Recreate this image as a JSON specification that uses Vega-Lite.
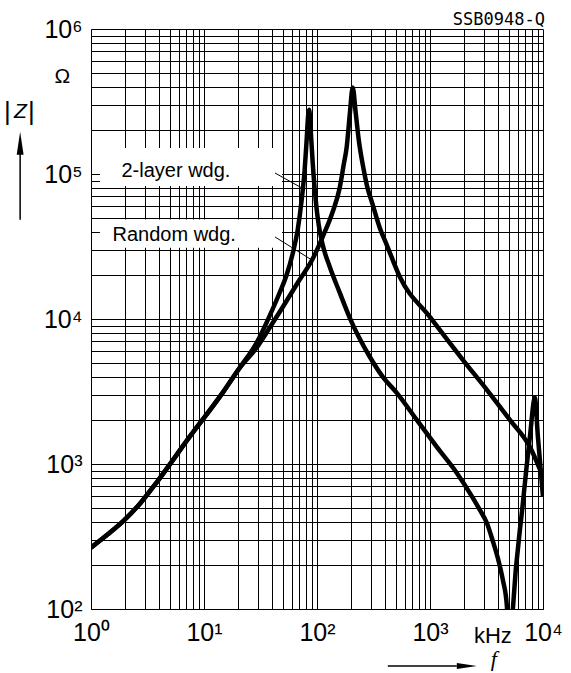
{
  "$schema": "https://vega.github.io/schema/vega-lite/v6.json",
  "width": 452,
  "height": 580,
  "autosize": {"type": "none"},
  "padding": {"left": 91, "top": 29, "right": 28, "bottom": 64},
  "background": "white",
  "config": {"view": {"stroke": null}, "font": "Liberation Sans"},
  "datasets": {
    "boxes": [
      {"f": 1.2, "f2": 49, "z": 82500, "z2": 151000},
      {"f": 1.2, "f2": 49, "z": 31000, "z2": 48500}
    ],
    "curves": [
      {"series": "2-layer", "f": 1, "z": 265},
      {"series": "2-layer", "f": 1.4, "z": 326},
      {"series": "2-layer", "f": 1.98, "z": 412},
      {"series": "2-layer", "f": 2.745, "z": 539},
      {"series": "2-layer", "f": 3.8, "z": 745},
      {"series": "2-layer", "f": 7.45, "z": 1538},
      {"series": "2-layer", "f": 14.6, "z": 3095},
      {"series": "2-layer", "f": 20.7, "z": 4605},
      {"series": "2-layer", "f": 29.2, "z": 6850},
      {"series": "2-layer", "f": 38.1, "z": 10520},
      {"series": "2-layer", "f": 46.7, "z": 15170},
      {"series": "2-layer", "f": 53.9, "z": 20200},
      {"series": "2-layer", "f": 60.9, "z": 28200},
      {"series": "2-layer", "f": 67.5, "z": 41270},
      {"series": "2-layer", "f": 73.2, "z": 66480},
      {"series": "2-layer", "f": 77.8, "z": 107100},
      {"series": "2-layer", "f": 81.0, "z": 172500},
      {"series": "2-layer", "f": 83.6, "z": 256600},
      {"series": "2-layer", "f": 85.3, "z": 277900},
      {"series": "2-layer", "f": 87.9, "z": 202000},
      {"series": "2-layer", "f": 91.6, "z": 119700},
      {"series": "2-layer", "f": 97.3, "z": 66500},
      {"series": "2-layer", "f": 103.5, "z": 44700},
      {"series": "2-layer", "f": 112.3, "z": 32500},
      {"series": "2-layer", "f": 129.6, "z": 22900},
      {"series": "2-layer", "f": 158.9, "z": 15200},
      {"series": "2-layer", "f": 194.9, "z": 10190},
      {"series": "2-layer", "f": 293, "z": 5490},
      {"series": "2-layer", "f": 382, "z": 3990},
      {"series": "2-layer", "f": 508, "z": 3095},
      {"series": "2-layer", "f": 764, "z": 2015},
      {"series": "2-layer", "f": 1148, "z": 1313},
      {"series": "2-layer", "f": 1727, "z": 868},
      {"series": "2-layer", "f": 2393, "z": 584},
      {"series": "2-layer", "f": 2761, "z": 482},
      {"series": "2-layer", "f": 3186, "z": 392},
      {"series": "2-layer", "f": 3597, "z": 294},
      {"series": "2-layer", "f": 4066, "z": 211},
      {"series": "2-layer", "f": 4413, "z": 158.6},
      {"series": "2-layer", "f": 4786, "z": 106},
      {"series": "2-layer", "f": 5090, "z": 40},
      {"series": "2-layer", "f": 5410, "z": 99},
      {"series": "2-layer", "f": 6637, "z": 539},
      {"series": "2-layer", "f": 7655, "z": 1538},
      {"series": "2-layer", "f": 8475, "z": 2860},
      {"series": "2-layer", "f": 9015, "z": 1538},
      {"series": "2-layer", "f": 10000, "z": 593},
      {"series": "Random", "f": 1, "z": 265},
      {"series": "Random", "f": 1.4, "z": 326},
      {"series": "Random", "f": 1.98, "z": 412},
      {"series": "Random", "f": 2.745, "z": 539},
      {"series": "Random", "f": 3.8, "z": 745},
      {"series": "Random", "f": 7.45, "z": 1538},
      {"series": "Random", "f": 14.6, "z": 3095},
      {"series": "Random", "f": 20.7, "z": 4605},
      {"series": "Random", "f": 29.2, "z": 6330},
      {"series": "Random", "f": 38.1, "z": 8700},
      {"series": "Random", "f": 48.7, "z": 11760},
      {"series": "Random", "f": 67.5, "z": 17800},
      {"series": "Random", "f": 91.6, "z": 26000},
      {"series": "Random", "f": 112.3, "z": 36900},
      {"series": "Random", "f": 137.7, "z": 54900},
      {"series": "Random", "f": 158.9, "z": 80400},
      {"series": "Random", "f": 172.3, "z": 115900},
      {"series": "Random", "f": 183.3, "z": 154300},
      {"series": "Random", "f": 194.9, "z": 256600},
      {"series": "Random", "f": 207.1, "z": 394300},
      {"series": "Random", "f": 220, "z": 264900},
      {"series": "Random", "f": 234, "z": 172600},
      {"series": "Random", "f": 254, "z": 115900},
      {"series": "Random", "f": 275.5, "z": 84400},
      {"series": "Random", "f": 311, "z": 61400},
      {"series": "Random", "f": 359, "z": 42600},
      {"series": "Random", "f": 414, "z": 32500},
      {"series": "Random", "f": 540, "z": 19550},
      {"series": "Random", "f": 996, "z": 10360},
      {"series": "Random", "f": 1953, "z": 5230},
      {"series": "Random", "f": 3186, "z": 3246},
      {"series": "Random", "f": 5090, "z": 2015},
      {"series": "Random", "f": 7655, "z": 1313},
      {"series": "Random", "f": 10000, "z": 815}
    ],
    "leaders": [
      {"f": 42.5, "z": 101600, "f2": 73.7, "z2": 80000},
      {"f": 42.5, "z": 36800, "f2": 90.3, "z2": 25500}
    ],
    "curveLabels": [
      {"f": 1.86, "z": 95700, "label": "2-layer wdg."},
      {"f": 1.55, "z": 34300, "label": "Random wdg."}
    ],
    "arrows": [
      {"f": 0.236, "f2": 0.236, "z": 48400, "z2": 140000},
      {"f": 423, "f2": 1727, "z": 40.4, "z2": 40.4}
    ],
    "headUp": [{"f": 0.236, "z": 163000}],
    "headRight": [{"f": 2118, "z": 40.4}],
    "unitOhm": [{"f": 0.559, "z": 426000, "label": "Ω"}],
    "unitKHz": [{"f": 3600, "z": 58.2, "label": "kHz"}],
    "code": [{"f": 10400, "z": 1070000, "label": "SSB0948-Q"}],
    "bars": [
      {"f": 0.182, "z": 269000, "label": "|"},
      {"f": 0.297, "z": 269000, "label": "|"}
    ],
    "zSym": [{"f": 0.2374, "z": 269000, "label": "Z"}],
    "fSym": [{"f": 3675, "z": 45.2, "label": "f"}]
  },
  "layer": [
    {
      "data": {"name": "boxes"},
      "mark": {"type": "rect", "fill": "white", "stroke": null},
      "encoding": {
        "x": {
          "field": "f", "type": "quantitative", "title": null,
          "scale": {"type": "log", "domain": [1, 10000]},
          "axis": {
            "values": [1,2,3,4,5,6,7,8,9,10,20,30,40,50,60,70,80,90,100,200,300,400,500,600,700,800,900,1000,2000,3000,4000,5000,6000,7000,8000,9000,10000],
            "grid": true, "gridColor": "#000", "gridWidth": 1, "gridOpacity": 1,
            "ticks": false, "tickSize": 0,
            "domainColor": "#000", "domainWidth": 1,
            "labelExpr": "datum.value == 1 ? '10\u2070' : datum.value == 10 ? '10\u00b9' : datum.value == 100 ? '10\u00b2' : datum.value == 1000 ? '10\u00b3' : datum.value == 10000 ? '10\u2074' : ''",
            "labelFontSize": 25, "labelColor": "#000", "labelPadding": 11,
            "labelOverlap": false, "labelBound": false, "labelFlush": false, "labelDx": 5,
            "zindex": 0
          }
        },
        "x2": {"field": "f2"},
        "y": {
          "field": "z", "type": "quantitative", "title": null,
          "scale": {"type": "log", "domain": [100, 1000000]},
          "axis": {
            "values": [100,200,300,400,500,600,700,800,900,1000,2000,3000,4000,5000,6000,7000,8000,9000,10000,20000,30000,40000,50000,60000,70000,80000,90000,100000,200000,300000,400000,500000,600000,700000,800000,900000,1000000],
            "grid": true, "gridColor": "#000", "gridWidth": 1, "gridOpacity": 1,
            "ticks": false, "tickSize": 0,
            "domainColor": "#000", "domainWidth": 1,
            "labelExpr": "datum.value == 100 ? '10\u00b2' : datum.value == 1000 ? '10\u00b3' : datum.value == 10000 ? '10\u2074' : datum.value == 100000 ? '10\u2075' : datum.value == 1000000 ? '10\u2076' : ''",
            "labelFontSize": 25, "labelColor": "#000", "labelPadding": 9,
            "labelBaseline": "middle", "labelDy": 1,
            "labelOverlap": false, "labelBound": false, "labelFlush": false,
            "zindex": 0
          }
        },
        "y2": {"field": "z2"}
      }
    },
    {
      "data": {"name": "curves"},
      "mark": {"type": "line", "color": "#000", "strokeWidth": 4.5, "clip": true, "strokeJoin": "round", "interpolate": "monotone"},
      "encoding": {
        "x": {"field": "f", "type": "quantitative", "title": null, "scale": {"type": "log", "domain": [1, 10000]}},
        "y": {"field": "z", "type": "quantitative", "title": null, "scale": {"type": "log", "domain": [100, 1000000]}},
        "detail": {"field": "series"}
      }
    },
    {
      "data": {"name": "leaders"},
      "mark": {"type": "rule", "color": "#000", "strokeWidth": 1},
      "encoding": {
        "x": {"field": "f", "type": "quantitative", "title": null, "scale": {"type": "log", "domain": [1, 10000]}},
        "x2": {"field": "f2"},
        "y": {"field": "z", "type": "quantitative", "title": null, "scale": {"type": "log", "domain": [100, 1000000]}},
        "y2": {"field": "z2"}
      }
    },
    {
      "data": {"name": "arrows"},
      "mark": {"type": "rule", "color": "#000", "strokeWidth": 1.5},
      "encoding": {
        "x": {"field": "f", "type": "quantitative", "title": null, "scale": {"type": "log", "domain": [1, 10000]}},
        "x2": {"field": "f2"},
        "y": {"field": "z", "type": "quantitative", "title": null, "scale": {"type": "log", "domain": [100, 1000000]}},
        "y2": {"field": "z2"}
      }
    },
    {
      "data": {"name": "headUp"},
      "mark": {"type": "point", "filled": true, "color": "#000", "opacity": 1, "shape": "M0,-1L0.3,1L-0.3,1Z", "size": 529},
      "encoding": {
        "x": {"field": "f", "type": "quantitative", "title": null, "scale": {"type": "log", "domain": [1, 10000]}},
        "y": {"field": "z", "type": "quantitative", "title": null, "scale": {"type": "log", "domain": [100, 1000000]}}
      }
    },
    {
      "data": {"name": "headRight"},
      "mark": {"type": "point", "filled": true, "color": "#000", "opacity": 1, "shape": "M1,0L-1,-0.3L-1,0.3Z", "size": 400},
      "encoding": {
        "x": {"field": "f", "type": "quantitative", "title": null, "scale": {"type": "log", "domain": [1, 10000]}},
        "y": {"field": "z", "type": "quantitative", "title": null, "scale": {"type": "log", "domain": [100, 1000000]}}
      }
    },
    {
      "data": {"name": "curveLabels"},
      "mark": {"type": "text", "align": "left", "baseline": "alphabetic", "fontSize": 20, "color": "#000", "font": "Liberation Sans"},
      "encoding": {
        "x": {"field": "f", "type": "quantitative", "title": null, "scale": {"type": "log", "domain": [1, 10000]}},
        "y": {"field": "z", "type": "quantitative", "title": null, "scale": {"type": "log", "domain": [100, 1000000]}},
        "text": {"field": "label"}
      }
    },
    {
      "data": {"name": "unitOhm"},
      "mark": {"type": "text", "align": "center", "baseline": "alphabetic", "fontSize": 21, "color": "#000", "font": "Liberation Sans"},
      "encoding": {
        "x": {"field": "f", "type": "quantitative", "title": null, "scale": {"type": "log", "domain": [1, 10000]}},
        "y": {"field": "z", "type": "quantitative", "title": null, "scale": {"type": "log", "domain": [100, 1000000]}},
        "text": {"field": "label"}
      }
    },
    {
      "data": {"name": "unitKHz"},
      "mark": {"type": "text", "align": "center", "baseline": "alphabetic", "fontSize": 22, "color": "#000", "font": "Liberation Sans"},
      "encoding": {
        "x": {"field": "f", "type": "quantitative", "title": null, "scale": {"type": "log", "domain": [1, 10000]}},
        "y": {"field": "z", "type": "quantitative", "title": null, "scale": {"type": "log", "domain": [100, 1000000]}},
        "text": {"field": "label"}
      }
    },
    {
      "data": {"name": "code"},
      "mark": {"type": "text", "align": "right", "baseline": "alphabetic", "fontSize": 17, "color": "#000", "font": "DejaVu Sans Mono"},
      "encoding": {
        "x": {"field": "f", "type": "quantitative", "title": null, "scale": {"type": "log", "domain": [1, 10000]}},
        "y": {"field": "z", "type": "quantitative", "title": null, "scale": {"type": "log", "domain": [100, 1000000]}},
        "text": {"field": "label"}
      }
    },
    {
      "data": {"name": "bars"},
      "mark": {"type": "text", "align": "center", "baseline": "middle", "fontSize": 26, "color": "#000", "font": "Liberation Sans"},
      "encoding": {
        "x": {"field": "f", "type": "quantitative", "title": null, "scale": {"type": "log", "domain": [1, 10000]}},
        "y": {"field": "z", "type": "quantitative", "title": null, "scale": {"type": "log", "domain": [100, 1000000]}},
        "text": {"field": "label"}
      }
    },
    {
      "data": {"name": "zSym"},
      "mark": {"type": "text", "align": "center", "baseline": "middle", "fontSize": 21, "fontStyle": "italic", "color": "#000", "font": "Liberation Sans"},
      "encoding": {
        "x": {"field": "f", "type": "quantitative", "title": null, "scale": {"type": "log", "domain": [1, 10000]}},
        "y": {"field": "z", "type": "quantitative", "title": null, "scale": {"type": "log", "domain": [100, 1000000]}},
        "text": {"field": "label"}
      }
    },
    {
      "data": {"name": "fSym"},
      "mark": {"type": "text", "align": "center", "baseline": "middle", "fontSize": 22, "fontStyle": "italic", "color": "#000", "font": "Liberation Serif"},
      "encoding": {
        "x": {"field": "f", "type": "quantitative", "title": null, "scale": {"type": "log", "domain": [1, 10000]}},
        "y": {"field": "z", "type": "quantitative", "title": null, "scale": {"type": "log", "domain": [100, 1000000]}},
        "text": {"field": "label"}
      }
    }
  ]
}
